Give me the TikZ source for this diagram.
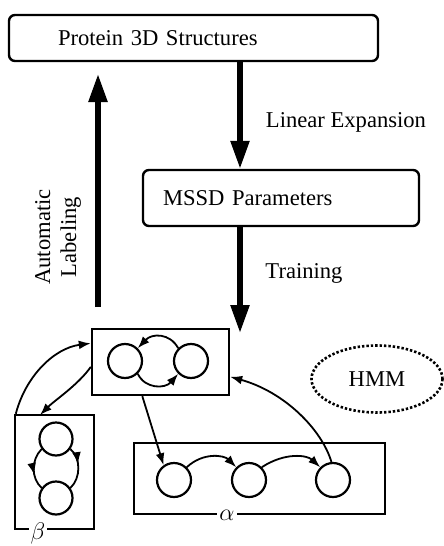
\documentclass[tikz,border=0pt]{standalone}
\usepackage{fontspec}
\setmainfont{Liberation Serif}
\usetikzlibrary{arrows.meta,shapes.geometric,decorations.markings}
\tikzset{
  box/.style={draw, line width=1.2pt, rounded corners=3pt, align=left, font=\fontsize{11.3}{13}\selectfont},
  stbox/.style={draw, line width=1.2pt, inner sep=0pt},
  state/.style={draw, circle, line width=1.1pt, inner sep=0pt},
  arr/.style={-{Latex[length=6pt,width=4.4pt]}, line width=0.9pt},
  bigarr/.style={-{Triangle[length=14pt,width=9pt]}, line width=2.7pt},
  midarr/.style={line width=0.9pt, postaction={decorate},
    decoration={markings, mark=at position #1 with {\arrow{Latex[length=6pt,width=4.4pt]}}}},
  lbl/.style={font=\fontsize{11.3}{13}\selectfont},
  gk/.style={fill=white, inner sep=1pt, font=\fontsize{12}{13}\selectfont}}
\begin{document}
\begin{tikzpicture}[x=0.5pt, y=-0.5pt]
  \useasboundingbox (0,0) rectangle (444,546);
  % upper boxes
  \node[box, minimum height=23pt, inner xsep=24.5pt, text width=135.5pt] (ps) at (193.5,38) {Protein 3D Structures};
  \node[box, minimum height=28pt, inner xsep=10pt, text width=118pt] (mssd) at (281,198) {MSSD Parameters};
  \coordinate (dx) at (240,0);
  \coordinate (trainend) at (240,333);
  \coordinate (labbot) at (98,307);
  \coordinate (labtop) at (98,74);
  \draw[bigarr] (ps.south -| dx) -- (mssd.north -| dx);
  \draw[bigarr] (mssd.south -| dx) -- (trainend);
  \draw[bigarr] (labbot) -- (labtop);
  \node[lbl] (linexp) at (346,122) {Linear Expansion};
  \node[lbl] (train) at (304,273) {Training};
  \node[lbl, rotate=90, align=center] (autolab) at (58,237) {Automatic\\Labeling};
  % HMM
  \node[draw, ellipse, line width=1.3pt, dash pattern=on 1.2pt off 1pt, minimum width=65.5pt, minimum height=33.5pt, lbl] (hmm) at (377,379) {HMM};
  % state boxes
  \node[stbox, minimum width=68.5pt, minimum height=33pt] (cbox) at (160.5,362) {};
  \node[stbox, minimum width=39.5pt, minimum height=57pt] (bbox) at (54.5,472) {};
  \node[stbox, minimum width=125.5pt, minimum height=35.5pt] (abox) at (259.5,478.5) {};
  \node[gk] (blab) at (38,533) {$\beta$};
  \node[gk] (alab) at (227,515) {$\alpha$};
  % states
  \node[state, minimum size=17pt] (c1) at (125,361) {};
  \node[state, minimum size=17pt] (c2) at (191,361) {};
  \node[state, minimum size=16.5pt] (b1) at (56,439) {};
  \node[state, minimum size=16.5pt] (b2) at (56,498) {};
  \node[state, minimum size=17pt] (a1) at (174,480) {};
  \node[state, minimum size=17pt] (a2) at (249,480) {};
  \node[state, minimum size=17pt] (a3) at (333,480) {};
  % transitions
  \draw[arr] (c2.135) .. controls (170,333) and (152,333) .. (c1.45);
  \draw[arr] (c1.-45) .. controls (145,389) and (165,389) .. (c2.-135);
  \draw[midarr=0.4] (b1.-35) .. controls (81,458) and (81,478) .. (b2.35);
  \draw[midarr=0.65] (b1.-145) .. controls (31,460) and (31,478) .. (b2.145);
  \draw[arr] (a1.45) .. controls (203,452) and (224,455) .. (a2.135);
  \draw[arr] (a2.45) .. controls (285,452) and (307,455) .. (a3.135);
  \draw[arr] (bbox.north west) ++(2,0) .. controls (26,375) and (55,348) .. (cbox.165);
  \draw[arr] (cbox.-176) .. controls (78,385) and (55,400) .. (40,415);
  \draw[arr] (cbox.-118) -- (a1.125);
  \draw[arr] (a3.95) .. controls (322,430) and (285,392) .. (cbox.-12);
\end{tikzpicture}
\end{document}
